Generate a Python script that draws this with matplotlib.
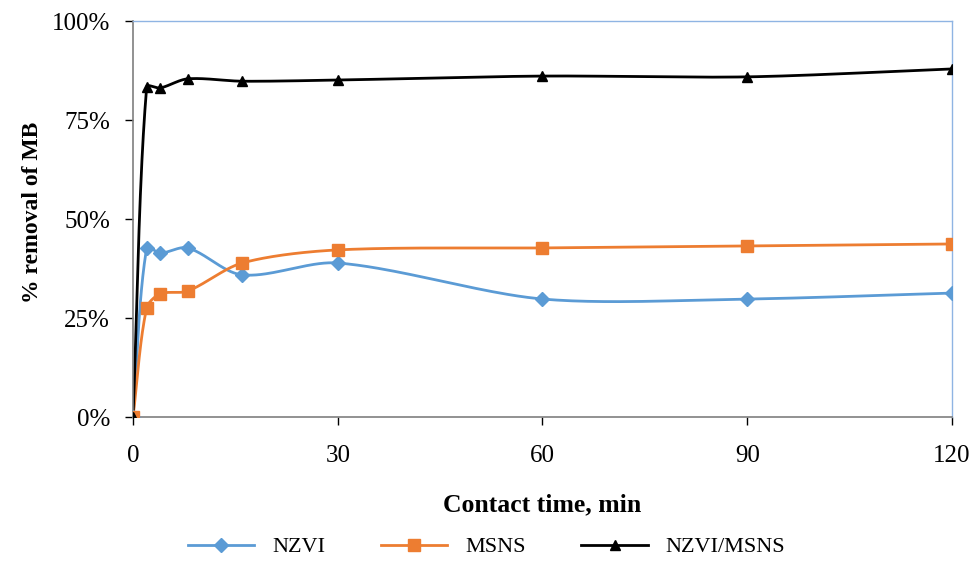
import numpy as np
import matplotlib
matplotlib.use("Agg")
import matplotlib.pyplot as plt
from matplotlib.ticker import PercentFormatter

plt.rcParams['font.family'] = ['Liberation Serif', 'DejaVu Serif']

# contact time (min) and % removal of MB
time_min = [0, 2, 4, 8, 16, 30, 60, 90, 120]
nzvi = [0.0, 42.7, 41.4, 42.7, 35.9, 38.9, 29.8, 29.8, 31.3]
msns = [0.0, 27.5, 31.1, 31.8, 38.9, 42.2, 42.7, 43.2, 43.7]
nzvi_msns = [0.0, 83.3, 83.1, 85.4, 84.8, 85.1, 86.1, 85.9, 87.9]

# screen scale used for the smoothing (px per unit)
SX, SY = 6.825, 3.96


def smooth(x, y, k=0.3, n=40):
    # bezier smoothing, handle lengths follow neighbouring segment lengths
    p = np.column_stack([np.asarray(x, float) * SX, np.asarray(y, float) * SY])
    m = len(p)
    tang = np.zeros_like(p)
    for i in range(m):
        a = p[max(i - 1, 0)]
        b = p[min(i + 1, m - 1)]
        d = b - a
        tang[i] = d / np.hypot(*d)
    t = np.linspace(0, 1, n)[:, None]
    out = []
    for i in range(m - 1):
        p0, p3 = p[i], p[i + 1]
        seg = np.hypot(*(p3 - p0))
        c1 = p0 + tang[i] * seg * k
        c2 = p3 - tang[i + 1] * seg * k
        b = (1 - t) ** 3 * p0 + 3 * (1 - t) ** 2 * t * c1 \
            + 3 * (1 - t) * t ** 2 * c2 + t ** 3 * p3
        out.append(b)
    out = np.vstack(out)
    return out[:, 0] / SX, out[:, 1] / SY


fig = plt.figure(figsize=(9.73, 5.76), dpi=100)
ax = fig.add_axes([0.1367, 0.276, 0.8417, 0.6875])

series = [
    (nzvi, '#5B9BD5', 'D', 7, 'NZVI'),
    (msns, '#ED7D31', 's', 8, 'MSNS'),
    (nzvi_msns, '#000000', '^', 7, 'NZVI/MSNS'),
]
for vals, col, mk, ms, name in series:
    sx, sy = smooth(time_min, vals)
    ax.plot(sx, sy, color=col, lw=2.0, zorder=2)
    ax.plot(time_min, vals, ls='none', marker=mk, ms=ms, color=col, zorder=3)
    ax.plot([], [], color=col, lw=2.0, marker=mk, ms=ms, label=name)

ax.set_xlim(0, 120)
ax.set_ylim(0, 100)
ax.set_xticks([0, 30, 60, 90, 120])
ax.set_yticks([0, 25, 50, 75, 100])
ax.yaxis.set_major_formatter(PercentFormatter(decimals=0))
ax.tick_params(direction='out', length=6, width=1, labelsize=18, colors='black')
ax.tick_params(axis='x', pad=14)
ax.tick_params(axis='y', pad=10.5)

for side in ['left', 'bottom']:
    ax.spines[side].set_color('#7f7f7f')
    ax.spines[side].set_linewidth(1.2)
for side in ['top', 'right']:
    ax.spines[side].set_color('#8fb4e3')
    ax.spines[side].set_linewidth(1.0)

fig.text(0.557, 0.123, 'Contact time, min', fontsize=18.5, fontweight='bold',
         ha='center', va='center')
fig.text(0.033, 0.632, '% removal of MB', fontsize=17, fontweight='bold',
         ha='center', va='center', rotation=90)

fig.legend(loc='center', bbox_to_anchor=(0.5, 0.05), ncol=3, frameon=False,
           fontsize=16, handlelength=3, columnspacing=2.5)

fig.savefig('out.png', dpi=100)
